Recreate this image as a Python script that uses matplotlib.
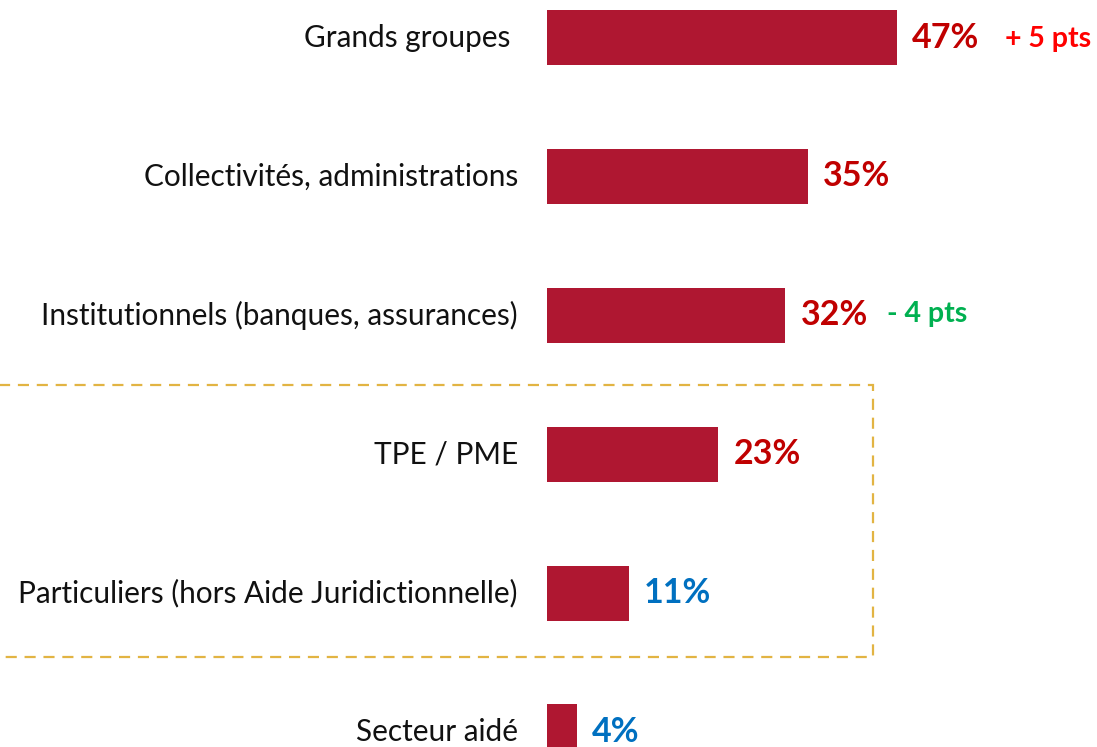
import matplotlib
matplotlib.use("Agg")
import matplotlib.pyplot as plt
from matplotlib.patches import Rectangle

# --- data ---
categories = [
    "Grands groupes ",
    "Collectivités, administrations",
    "Institutionnels (banques, assurances)",
    "TPE / PME",
    "Particuliers (hors Aide Juridictionnelle)",
    "Secteur aidé",
]
values = [47, 35, 32, 23, 11, 4]
value_colors = ["#C00000", "#C00000", "#C00000", "#C00000", "#0070C0", "#0070C0"]
deltas = {0: ("+ 5 pts", "#FF0000"), 2: ("- 4 pts", "#00B050")}

BAR_COLOR = "#AF1731"
plt.rcParams["font.family"] = ["Lato", "DejaVu Sans"]

fig = plt.figure(figsize=(10.97, 7.47), dpi=100)
ax = fig.add_axes([0, 0, 1, 1])

ypos = list(range(len(categories)))
ax.barh(ypos, values, height=0.396, color=BAR_COLOR)

for i, (cat, v) in enumerate(zip(categories, values)):
    ax.text(-3.9, i, cat, ha="right", va="center", fontsize=21.4, color="#111111")
    t = ax.annotate(f"{v}%", xy=(v, i), xytext=(11, 0), textcoords="offset points",
                    ha="left", va="center", fontsize=24.5, fontweight="bold",
                    color=value_colors[i])
    if i in deltas:
        txt, col = deltas[i]
        gap = 18 if i == 0 else 14
        ax.annotate(txt, xy=(1, 0.5), xycoords=t, xytext=(gap, 1 if i == 2 else -1),
                    textcoords="offset points", ha="left", va="center",
                    fontsize=20.5, fontweight="bold", color=col)

# dashed frame around TPE/PME and Particuliers
box = Rectangle((-90, 2.5), 90 + 43.8, 1.957, fill=False, edgecolor="#E2B443",
                lw=1.6, ls=(0, (5, 3.5)))
ax.add_patch(box)

ax.set_xlim(-73.45, 73.86)
ax.set_ylim(5.108, -0.27)
ax.axis("off")

fig.savefig("out.png", dpi=100)
